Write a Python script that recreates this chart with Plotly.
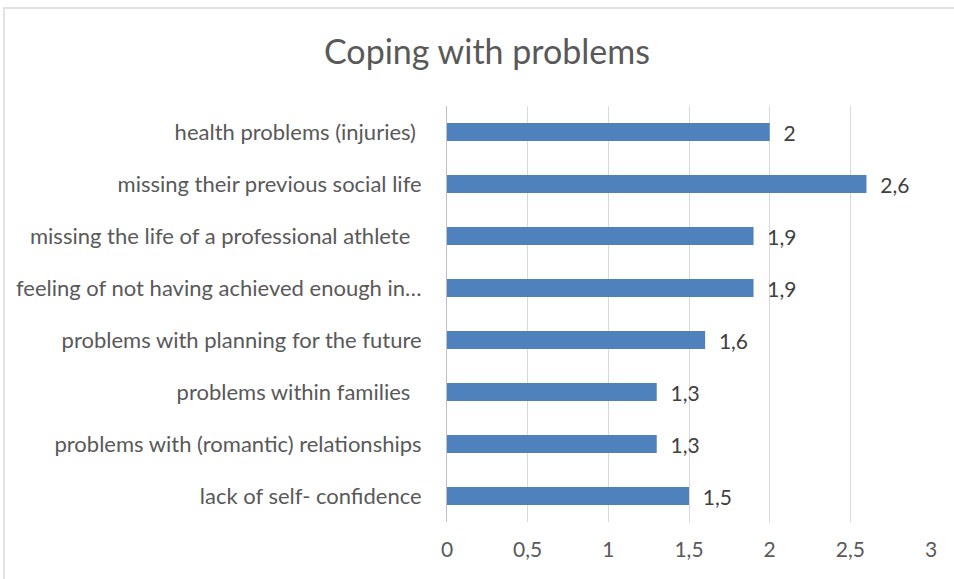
import plotly.graph_objects as go

# categories listed bottom to top, as plotly draws them
categories = [
    "lack of self- confidence",
    "problems with (romantic) relationships",
    "problems within families\u00a0\u00a0",
    "problems with planning for the future",
    "feeling of not having achieved enough in…",
    "missing the life of a professional athlete\u00a0\u00a0",
    "missing their previous social life",
    "health problems (injuries)\u00a0",
]
values = [1.5, 1.3, 1.3, 1.6, 1.9, 1.9, 2.6, 2.0]
value_labels = ["1,5", "1,3", "1,3", "1,6", "1,9", "1,9", "2,6", "2"]
tick_vals = [0, 0.5, 1, 1.5, 2, 2.5, 3]
tick_text = ["0", "0,5", "1", "1,5", "2", "2,5", "3"]

font_family = "Lato, Noto Sans, sans-serif"

fig = go.Figure(
    go.Bar(
        y=categories,
        x=values,
        orientation="h",
        marker={"color": "#4f81bd", "line": {"width": 0}},
        text=["\u00a0\u00a0" + t for t in value_labels],
        textposition="outside",
        constraintext="none",
        textfont={"size": 21, "color": "#404040", "family": font_family},
        cliponaxis=False,
    )
)

fig.update_layout(
    width=954,
    height=579,
    paper_bgcolor="white",
    plot_bgcolor="white",
    margin={"l": 447, "r": 23, "t": 106, "b": 57},
    bargap=0.65,
    showlegend=False,
    font={"family": font_family, "color": "#595959", "size": 21},
    title={
        "text": "Coping with problems",
        "x": 487 / 954,
        "xref": "container",
        "xanchor": "center",
        "y": 1 - 52 / 579,
        "yref": "container",
        "yanchor": "middle",
        "font": {"size": 34, "color": "#595959", "family": font_family},
    },
    xaxis={
        "range": [0, 3],
        "tickvals": tick_vals,
        "ticktext": tick_text,
        "showgrid": True,
        "gridcolor": "#d9d9d9",
        "gridwidth": 1,
        "zeroline": False,
        "showline": False,
        "ticks": "",
        "ticklabelstandoff": 13,
        "tickfont": {"size": 21, "color": "#595959"},
        "fixedrange": True,
    },
    yaxis={
        "showline": True,
        "linecolor": "#bfbfbf",
        "linewidth": 1,
        "showgrid": False,
        "ticks": "",
        "ticklabelstandoff": 20,
        "tickfont": {"size": 22, "color": "#595959"},
    },
)

# chart border like the spreadsheet frame
fig.add_shape(
    type="rect",
    xref="paper",
    yref="paper",
    x0=(4 - 447) / 484,
    x1=(960 - 447) / 484,
    y0=(522 - 590) / 416,
    y1=(522 - 8) / 416,
    line={"color": "#d9d9d9", "width": 1.5},
    fillcolor="rgba(0,0,0,0)",
    layer="below",
)

fig.write_html(
    "out.html",
    config={"displayModeBar": False},
    post_script="document.body.style.margin = '0px';",
)
